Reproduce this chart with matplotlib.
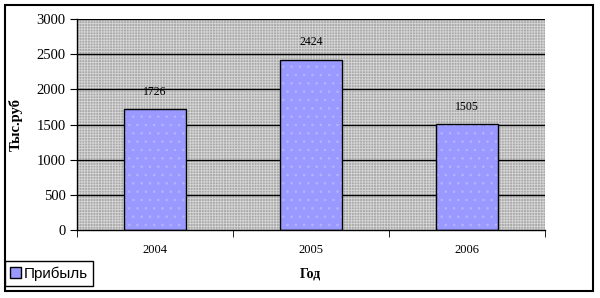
import numpy as np
import matplotlib.pyplot as plt
from matplotlib.patches import Rectangle, Patch

## the data
years = ['2004', '2005', '2006']
profit = [1726, 2424, 1505]

ind = np.arange(len(years))
width = 0.4

plt.rcParams['hatch.linewidth'] = 0.6

fig = plt.figure(figsize=(6, 2.98), dpi=100)
ax = fig.add_axes([0.128, 0.228, 0.78, 0.708])

# patterned grey plot area
ax.set_facecolor('#a9a9a9')
ax.add_patch(Rectangle((0, 0), 1, 1, transform=ax.transAxes, facecolor='none',
                       edgecolor='#d6d6d6', hatch='++++++', linewidth=0, zorder=0.5))

for y in range(500, 3001, 500):
    ax.axhline(y, color='black', linewidth=1, zorder=1)

## the bars (fill with dots, then black outline)
ax.bar(ind, profit, width, color='#9999ff', edgecolor='#b4b4ff', hatch='..',
       linewidth=0, zorder=2)
bars = ax.bar(ind, profit, width, color='none', edgecolor='black',
              linewidth=1, zorder=3)

for x, v in zip(ind, profit):
    ax.annotate(str(v), (x, v), xytext=(0, 8), textcoords='offset points',
                ha='center', va='bottom', fontsize=8.5, family='Liberation Serif')

# axes and labels
ax.set_xlim(-0.5, len(ind) - 0.5)
ax.set_ylim(0, 3000)
ax.set_yticks(range(0, 3001, 500))
ax.set_yticklabels([str(t) for t in range(0, 3001, 500)],
                   fontsize=10.5, family='Liberation Serif')
ax.set_xticks(ind)
ax.set_xticklabels(years, fontsize=9, family='Liberation Serif')
ax.set_xticks(np.arange(len(ind) + 1) - 0.5, minor=True)
ax.tick_params(axis='x', which='major', length=0, pad=10)
ax.tick_params(axis='x', which='minor', length=5, direction='out')
ax.tick_params(axis='y', length=5, direction='out', pad=3)

ax.spines['top'].set_visible(False)
ax.spines['right'].set_visible(False)
ax.spines['left'].set_linewidth(1)
ax.spines['bottom'].set_linewidth(1)

ax.set_ylabel('Тыс.руб', fontsize=10.5, fontweight='bold', family='Liberation Serif',
              labelpad=10)
ax.set_xlabel('Год', fontsize=10, fontweight='bold', family='Liberation Serif',
              labelpad=8)

## legend
leg = fig.legend([Patch(facecolor='#9999ff', edgecolor='black')], ['Прибыль'],
                 loc='lower left', bbox_to_anchor=(0.008, 0.04),
                 prop={'family': 'Liberation Sans', 'size': 11},
                 fancybox=False, framealpha=1, edgecolor='black',
                 handlelength=0.7, handleheight=0.7, handletextpad=0.2,
                 borderpad=0.35, borderaxespad=0)
leg.get_frame().set_linewidth(1)

# outer border
fig.add_artist(Rectangle((5 / 600, 7 / 298), 588 / 600, 286 / 298,
                         transform=fig.transFigure, facecolor='none',
                         edgecolor='black', linewidth=1.5))

fig.savefig('out.png', dpi=100)
